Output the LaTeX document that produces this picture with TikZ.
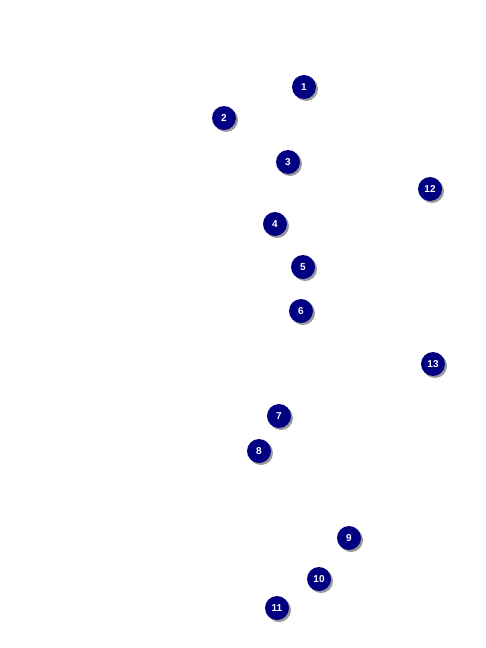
\documentclass[tikz,border=0pt]{standalone}
\usepackage{fontspec}
\setsansfont{Liberation Sans}
\usetikzlibrary{shadows}
\definecolor{navy}{HTML}{000080}
\tikzset{
  callout/.style={circle, fill=navy, minimum size=24pt, inner sep=0pt,
    text=white, font=\sffamily\bfseries\fontsize{10}{10}\selectfont,
    drop shadow={shadow xshift=2pt, shadow yshift=-2pt, fill=gray!80, opacity=1}}
}
\begin{document}
\begin{tikzpicture}[x=1pt,y=-1pt]
	\useasboundingbox (0,0) rectangle (486,648);
	\foreach \n/\px/\py in {1/304/87, 2/224/118, 3/288/162, 12/430/189, 4/275/224,
	  5/303/267, 6/301/311, 13/433/364, 7/279/416, 8/259/451, 9/349/538,
	  10/319/579, 11/277/608}
	  \node[callout] (c\n) at (\px,\py) {\n};
\end{tikzpicture}
\end{document}
